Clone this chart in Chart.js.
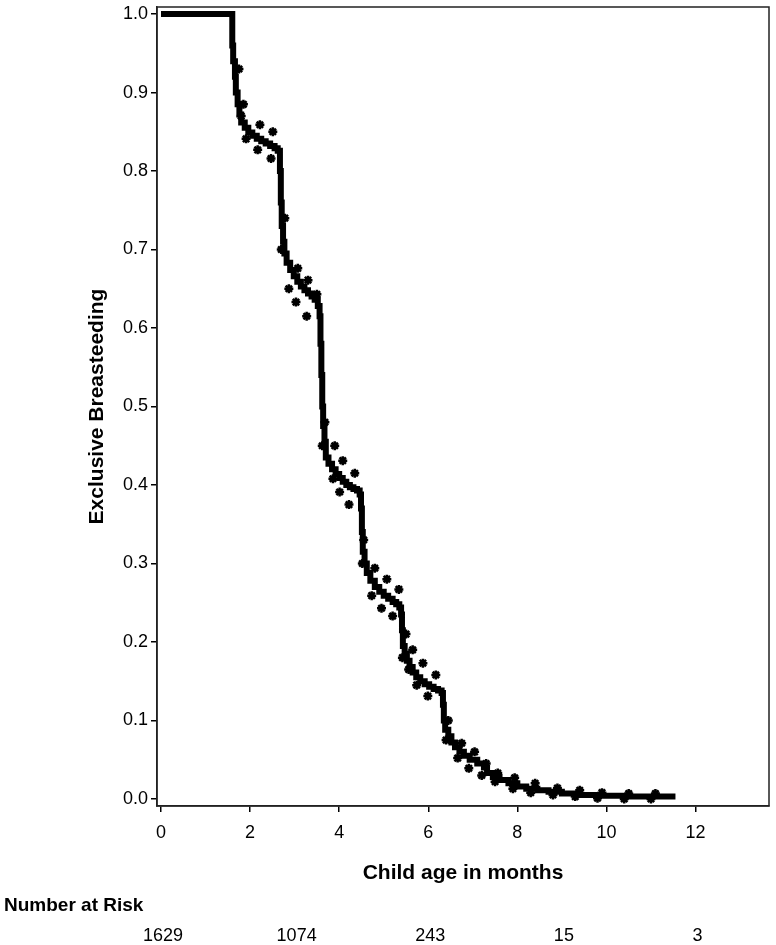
<!DOCTYPE html>
<html>
<head>
<meta charset="utf-8">
<script src="https://cdn.jsdelivr.net/npm/chart.js@4"></script>
<style>
  body { margin: 0; background: #fff; }
  #wrap { width: 776px; height: 945px; position: relative; }
</style>
</head>
<body>
<div id="wrap"><canvas id="kmChart"></canvas></div>
<script>
// Kaplan-Meier estimate (step curve)
const kmTime = [0, 1.60, 1.62, 1.66, 1.68, 1.72, 1.76, 1.80, 1.88, 1.96,
  2.05, 2.15, 2.25, 2.35, 2.45, 2.55, 2.62, 2.67, 2.69, 2.71,
  2.74, 2.77, 2.82, 2.90, 2.98, 3.06, 3.14, 3.22, 3.30, 3.38,
  3.45, 3.52, 3.56, 3.58, 3.60, 3.62, 3.64, 3.67, 3.70, 3.76,
  3.84, 3.92, 4.00, 4.08, 4.16, 4.24, 4.32, 4.40, 4.46, 4.49,
  4.51, 4.53, 4.57, 4.62, 4.70, 4.80, 4.90, 5.00, 5.10, 5.20,
  5.28, 5.35, 5.39, 5.41, 5.43, 5.47, 5.52, 5.58, 5.65, 5.73,
  5.82, 5.92, 6.02, 6.12, 6.22, 6.30, 6.33, 6.35, 6.38, 6.45,
  6.52, 6.60, 6.70, 6.80, 6.93, 7.10, 7.25, 7.32, 7.45, 7.60,
  7.80, 8.00, 8.20, 8.45, 8.70, 9.00, 9.40, 9.90, 10.40, 11.00,
  11.55];
const kmSurv = [1.0, 0.96, 0.94, 0.92, 0.90, 0.885, 0.872, 0.862, 0.855, 0.849,
  0.845, 0.841, 0.838, 0.835, 0.832, 0.829, 0.826, 0.80, 0.76, 0.73,
  0.71, 0.695, 0.683, 0.674, 0.666, 0.659, 0.653, 0.648, 0.644, 0.640,
  0.636, 0.628, 0.615, 0.58, 0.54, 0.50, 0.475, 0.455, 0.435, 0.427,
  0.420, 0.414, 0.409, 0.404, 0.400, 0.397, 0.395, 0.393, 0.388, 0.37,
  0.34, 0.315, 0.30, 0.288, 0.278, 0.270, 0.264, 0.259, 0.255, 0.251,
  0.248, 0.244, 0.235, 0.215, 0.195, 0.185, 0.176, 0.168, 0.161, 0.155,
  0.150, 0.146, 0.143, 0.140, 0.138, 0.135, 0.12, 0.10, 0.088, 0.080,
  0.072, 0.066, 0.060, 0.055, 0.050, 0.045, 0.040, 0.033, 0.028, 0.024,
  0.020, 0.016, 0.013, 0.011, 0.009, 0.007, 0.005, 0.004, 0.003, 0.003,
  0.003];

// confidence limits (star markers)
const upperTime = [1.75, 1.85, 2.22, 2.51, 2.78, 3.07, 3.30, 3.50, 3.68, 3.90, 4.08, 4.35,
  4.55, 4.80, 5.07, 5.34, 5.50, 5.65, 5.88, 6.17, 6.45, 6.75, 7.04, 7.30, 7.56, 7.94,
  8.40, 8.90, 9.40, 9.90, 10.50, 11.10];
const upperSurv = [0.93, 0.885, 0.859, 0.850, 0.74, 0.676, 0.661, 0.643, 0.48, 0.450, 0.431, 0.415,
  0.33, 0.294, 0.280, 0.267, 0.21, 0.190, 0.173, 0.158, 0.10, 0.071, 0.060, 0.045, 0.033, 0.027,
  0.020, 0.014, 0.011, 0.008, 0.007, 0.007];
const lowerTime = [1.80, 1.91, 2.17, 2.47, 2.70, 2.87, 3.03, 3.27, 3.62, 3.86, 4.01, 4.22,
  4.52, 4.73, 4.95, 5.20, 5.42, 5.56, 5.74, 5.99, 6.40, 6.66, 6.91, 7.20, 7.50, 7.90,
  8.30, 8.80, 9.30, 9.80, 10.40, 11.00];
const lowerSurv = [0.87, 0.841, 0.827, 0.816, 0.70, 0.650, 0.633, 0.615, 0.45, 0.408, 0.391, 0.375,
  0.30, 0.259, 0.243, 0.233, 0.18, 0.165, 0.145, 0.131, 0.075, 0.052, 0.039, 0.030, 0.022, 0.013,
  0.008, 0.005, 0.003, 0.001, 0.000, 0.000];

const xTicks = [0, 2, 4, 6, 8, 10, 12];
const yTicks = [0, 0.1, 0.2, 0.3, 0.4, 0.5, 0.6, 0.7, 0.8, 0.9, 1.0];

const atRiskTime = [0, 3, 6, 9, 12];
const atRiskCount = [1629, 1074, 243, 15, 3];

function toPoints(xs, ys) {
  return xs.map((x, i) => ({ x: x, y: ys[i] }));
}

const FONT = "'Liberation Sans', Arial, sans-serif";

const boxAndRisk = {
  id: 'boxAndRisk',
  beforeDraw(chart) {
    const ctx = chart.ctx;
    ctx.save();
    ctx.fillStyle = '#fff';
    ctx.fillRect(0, 0, chart.width, chart.height);
    ctx.restore();
  },
  afterDraw(chart) {
    const ctx = chart.ctx;
    const a = chart.chartArea;
    const xs = chart.scales.x;
    ctx.save();
    ctx.strokeStyle = '#222';
    ctx.lineWidth = 1.5;
    ctx.strokeRect(a.left, a.top, a.right - a.left, a.bottom - a.top);

    ctx.fillStyle = '#000';
    ctx.textBaseline = 'middle';
    ctx.textAlign = 'left';
    ctx.font = 'bold 19px ' + FONT;
    ctx.fillText('Number at Risk', 4, 906);

    ctx.textAlign = 'center';
    ctx.font = '18px ' + FONT;
    atRiskTime.forEach((t, i) => {
      ctx.fillText(String(atRiskCount[i]), xs.getPixelForValue(t) + 2, 936);
    });
    ctx.restore();
  }
};

new Chart(document.getElementById('kmChart'), {
  type: 'line',
  data: {
    datasets: [
      {
        label: 'Survival',
        data: toPoints(kmTime, kmSurv),
        stepped: true,
        borderColor: '#000',
        borderWidth: 6,
        pointRadius: 0,
        fill: false
      },
      {
        label: 'Upper',
        data: toPoints(upperTime, upperSurv),
        showLine: false,
        pointStyle: 'star',
        pointRadius: 4.5,
        borderWidth: 2.5,
        borderColor: '#000',
        backgroundColor: '#000'
      },
      {
        label: 'Lower',
        data: toPoints(lowerTime, lowerSurv),
        showLine: false,
        pointStyle: 'star',
        pointRadius: 4.5,
        borderWidth: 2.5,
        borderColor: '#000',
        backgroundColor: '#000'
      }
    ]
  },
  options: {
    responsive: true,
    maintainAspectRatio: false,
    animation: false,
    layout: { padding: { top: 5, right: 6, bottom: 55, left: 80 } },
    plugins: {
      legend: { display: false },
      tooltip: { enabled: false }
    },
    scales: {
      x: {
        type: 'linear',
        min: -0.09,
        max: 13.65,
        afterBuildTicks: (s) => { s.ticks = xTicks.map(v => ({ value: v })); },
        afterFit: (s) => { s.height = 84; s.paddingLeft = 0; s.paddingRight = 0; },
        grid: { display: true, drawOnChartArea: false, drawTicks: true, tickLength: 6, color: '#000', lineWidth: 1.5 },
        border: { display: true, color: '#222', width: 1.5 },
        ticks: { color: '#000', padding: 10, font: { family: FONT, size: 18 }, maxRotation: 0 },
        title: {
          display: true,
          text: 'Child age in months',
          color: '#000',
          font: { family: FONT, size: 21, weight: 'bold' },
          padding: { top: 0, bottom: 4 }
        }
      },
      y: {
        type: 'linear',
        min: -0.009,
        max: 1.009,
        afterBuildTicks: (s) => { s.ticks = yTicks.map(v => ({ value: v })); },
        afterFit: (s) => { s.width = 77; s.paddingTop = 0; s.paddingBottom = 0; },
        grid: { display: true, drawOnChartArea: false, drawTicks: true, tickLength: 6, color: '#000', lineWidth: 1.5 },
        border: { display: true, color: '#222', width: 1.5 },
        ticks: { color: '#000', padding: 3, font: { family: FONT, size: 18 }, callback: (v) => v.toFixed(1) },
        title: {
          display: true,
          text: 'Exclusive Breasteeding',
          color: '#000',
          font: { family: FONT, size: 21, weight: 'bold' },
          padding: { top: 5, bottom: 0 }
        }
      }
    }
  },
  plugins: [boxAndRisk]
});
</script>
</body>
</html>
